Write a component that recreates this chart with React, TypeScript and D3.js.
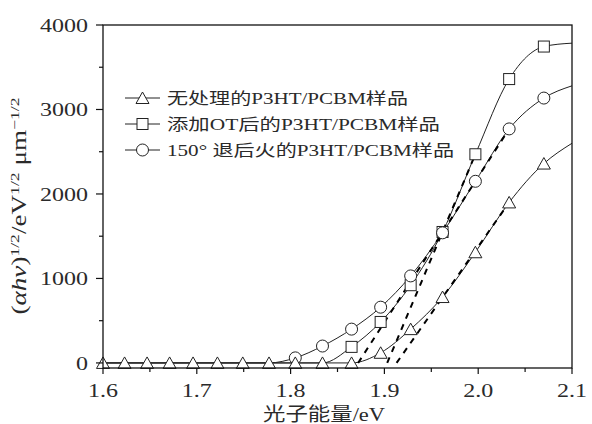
import * as d3 from "d3";

// photon energy (eV) of the measured points
const energy = [1.6, 1.623, 1.647, 1.671, 1.696, 1.722, 1.749, 1.777, 1.805, 1.834, 1.865, 1.896, 1.928, 1.962, 1.997, 2.033, 2.07];
const untreated = [0, 0, 0, 0, 0, 0, 0, 0, 0, 0, 0, 120, 400, 780, 1310, 1900, 2360];
const withOT = [0, 0, 0, 0, 0, 0, 0, 0, 0, 0, 190, 485, 920, 1550, 2470, 3360, 3745];
const annealed = [0, 0, 0, 0, 0, 0, 0, 0, 60, 200, 400, 660, 1030, 1540, 2150, 2770, 3135];
// curve continues to the right frame
const energyEnd = 2.1;
const untreatedEnd = 2600;
const withOTEnd = 3785;
const annealedEnd = 3280;

// linear fits (dashed), [energy, value]
const fitUntreated = [[1.913, 0], [2.033, 1900]];
const fitOT = [[1.903, 0], [1.997, 2470]];
const fitAnnealed = [[1.872, 0], [2.033, 2770]];

const legendLabels = ["无处理的P3HT/PCBM样品", "添加OT后的P3HT/PCBM样品", "150° 退后火的P3HT/PCBM样品"];
const xTicks = [1.6, 1.7, 1.8, 1.9, 2.0, 2.1];
const xMinor = [1.65, 1.75, 1.85, 1.95, 2.05];
const yTicks = [0, 1000, 2000, 3000, 4000];
const yMinor = [500, 1500, 2500, 3500];

const W = 592, H = 424;
const left = 103, right = 572, top = 25, bottom = 368;
const serif = "'Liberation Serif', 'Noto Sans CJK SC', serif";
const ink = "#2a2a2a";

const x = d3.scaleLinear().domain([1.6, 2.1]).range([left, right]);
const y = d3.scaleLinear().domain([-60, 4000]).range([bottom, top]);

const curve = d3.line<[number, number]>().x(d => x(d[0])).y(d => y(d[1])).curve(d3.curveMonotoneX);
const straight = d3.line<number[]>().x(d => x(d[0])).y(d => y(d[1]));

const tri = "M0,-6 L6.5,5.5 L-6.5,5.5 Z";

function Marker({ kind, cx, cy }: { kind: string; cx: number; cy: number }) {
  const st = { fill: "#fff", stroke: "#222", strokeWidth: 1 };
  if (kind === "tri") return <path d={tri} transform={`translate(${cx},${cy})`} {...st} />;
  if (kind === "sq") return <rect x={cx - 5.5} y={cy - 5.5} width={11} height={11} {...st} />;
  return <circle cx={cx} cy={cy} r={6} {...st} />;
}

const series = [
  { kind: "tri", vals: untreated, end: untreatedEnd, from: 0, fit: fitUntreated },
  { kind: "sq", vals: withOT, end: withOTEnd, from: 10, fit: fitOT },
  { kind: "circ", vals: annealed, end: annealedEnd, from: 8, fit: fitAnnealed },
];

const digitW = (s: string) => s.split("").reduce((a, c) => a + (c === "." ? 6 : 12), 0);

export default function App() {
  return (
    <svg width={W} height={H} style={{ position: "absolute", left: 0, top: 0, background: "#fff" }}>
      {/* curves */}
      {series.map((s, i) => {
        const pts: [number, number][] = energy.map((e, j) => [e, s.vals[j]]);
        pts.push([energyEnd, s.end]);
        return <path key={"c" + i} d={curve(pts) || ""} fill="none" stroke="#222" strokeWidth={1} />;
      })}
      {/* fits */}
      {series.map((s, i) => (
        <path key={"f" + i} d={straight(s.fit) || ""} fill="none" stroke="#000" strokeWidth={2} strokeDasharray="6,6" />
      ))}
      {/* markers: squares, circles, then triangles on top */}
      {[1, 2, 0].map(i => {
        const s = series[i];
        return energy.map((e, j) =>
          j >= s.from ? <Marker key={`m${i}-${j}`} kind={s.kind} cx={x(e)} cy={y(s.vals[j])} /> : null
        );
      })}

      {/* frame */}
      <rect x={left} y={top} width={right - left} height={bottom - top} fill="none" stroke="#111" strokeWidth={1.3} />

      {/* x axis */}
      {xTicks.map(t => (
        <g key={"x" + t}>
          <line x1={x(t)} x2={x(t)} y1={bottom} y2={bottom + 6} stroke="#111" strokeWidth={1.2} />
          <text x={x(t)} y={397} textAnchor="middle" fontFamily={serif} fontSize={19} fill={ink}
            textLength={digitW(t.toFixed(1))} lengthAdjust="spacingAndGlyphs">{t.toFixed(1)}</text>
        </g>
      ))}
      {xMinor.map(t => (
        <line key={"xm" + t} x1={x(t)} x2={x(t)} y1={bottom} y2={bottom + 4} stroke="#111" strokeWidth={1.2} />
      ))}
      {/* y axis */}
      {yTicks.map(t => (
        <g key={"y" + t}>
          <line x1={left - 7} x2={left} y1={y(t)} y2={y(t)} stroke="#111" strokeWidth={1.2} />
          <text x={88} y={y(t) + 7} textAnchor="end" fontFamily={serif} fontSize={19} fill={ink}
            textLength={digitW(String(t))} lengthAdjust="spacingAndGlyphs">{t}</text>
        </g>
      ))}
      {yMinor.map(t => (
        <line key={"ym" + t} x1={left - 4} x2={left} y1={y(t)} y2={y(t)} stroke="#111" strokeWidth={1.2} />
      ))}

      {/* axis titles */}
      <text x={324} y={421} textAnchor="middle" fontFamily={serif} fontSize={19} fill={ink}
        textLength={122} lengthAdjust="spacingAndGlyphs">光子能量/eV</text>
      <text transform="translate(26,206) rotate(-90)" textAnchor="middle" fontFamily={serif} fontSize={20} fill={ink}
        textLength={217} lengthAdjust="spacingAndGlyphs">
        (<tspan fontStyle="italic">αhν</tspan>)
        <tspan fontSize={13} baselineShift="super">1/2</tspan>
        <tspan>/eV</tspan>
        <tspan fontSize={13} baselineShift="super">1/2</tspan>
        <tspan> μm</tspan>
        <tspan fontSize={13} baselineShift="super">−1/2</tspan>
      </text>

      {/* legend */}
      {series.map((s, i) => {
        const cy = 98 + i * 26;
        const widths = [241, 273, 287];
        return (
          <g key={"l" + i}>
            <line x1={125} x2={160} y1={cy} y2={cy} stroke="#222" strokeWidth={1} />
            <Marker kind={s.kind} cx={142.5} cy={cy} />
            <text x={167} y={cy + 6} fontFamily={serif} fontSize={16} fill={ink}
              textLength={widths[i]} lengthAdjust="spacingAndGlyphs">{legendLabels[i]}</text>
          </g>
        );
      })}
    </svg>
  );
}
